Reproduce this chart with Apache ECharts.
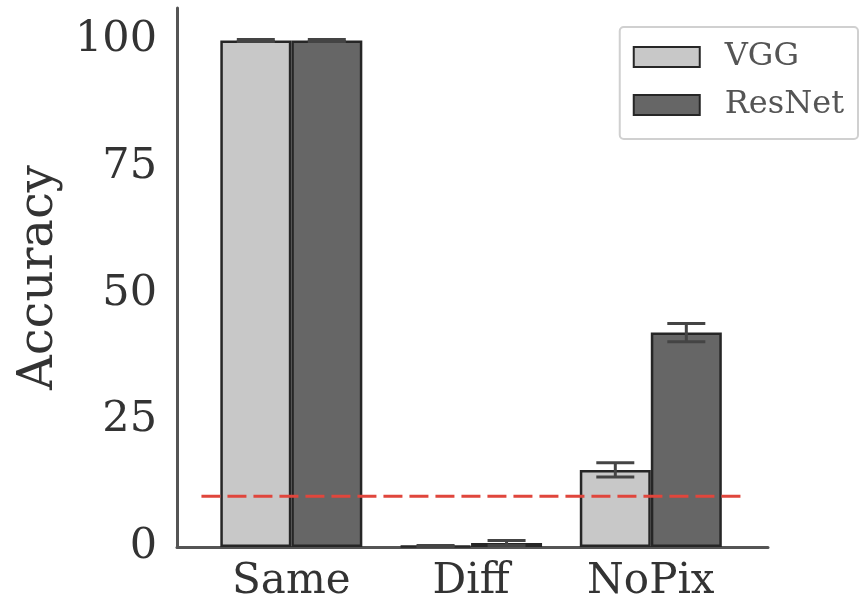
<!DOCTYPE html>
<html>
<head>
<meta charset="utf-8">
<script src="https://cdn.jsdelivr.net/npm/echarts@6/dist/echarts.min.js"></script>
<style>
  html, body { margin: 0; padding: 0; background: #fff; }
  #main { width: 860px; height: 603px; }
</style>
</head>
<body>
<div id="main"></div>
<script>
var categories = ['Same', 'Diff', 'NoPix'];
var vggValues = [99.9, 0.2, 15.2];
var vggErr = [0.2, 0.1, 1.4];
var resnetValues = [99.9, 0.8, 42.3];
var resnetErr = [0.2, 0.5, 1.8];
var chanceLevel = 10;
var chanceSpan = [-0.5, 2.5];
var yTicks = [0, 25, 50, 75, 100];

var myChart = echarts.init(document.getElementById('main'));
var font = 'DejaVu Serif';
var barW = 71;

function toPairs(vals) {
    return vals.map(function (v, i) { return [i, v]; });
}

var errData = [];
vggValues.forEach(function (v, i) { errData.push([i, v - vggErr[i], v + vggErr[i], -1]); });
resnetValues.forEach(function (v, i) { errData.push([i, v - resnetErr[i], v + resnetErr[i], 1]); });

var option = {
    animation: false,
    grid: { left: 177, right: 92, top: 8, bottom: 56 },
    legend: {
        right: 2,
        top: 27,
        orient: 'vertical',
        data: ['VGG', 'ResNet'],
        icon: 'rect',
        itemWidth: 66,
        itemHeight: 20,
        itemGap: 16,
        padding: [14, 14, 18, 13],
        borderColor: '#d0d0d0',
        borderWidth: 2,
        borderRadius: 4,
        backgroundColor: '#fff',
        textStyle: { fontFamily: font, fontSize: 32, color: '#555', padding: [0, 0, 0, 20] }
    },
    xAxis: {
        type: 'value',
        min: -0.636,
        max: 2.652,
        splitLine: { show: false },
        axisTick: { show: false },
        axisLine: { show: true, onZero: false, lineStyle: { color: '#555', width: 3 } },
        axisLabel: {
            customValues: [0, 1, 2],
            formatter: function (v) { return categories[Math.round(v)]; },
            fontFamily: font, fontSize: 42, color: '#333', margin: 14
        }
    },
    yAxis: {
        type: 'value',
        min: 0,
        max: 106.3,
        name: 'Accuracy',
        nameLocation: 'middle',
        nameGap: 103,
        nameTextStyle: { fontFamily: font, fontSize: 48, color: '#333' },
        splitLine: { show: false },
        axisTick: { show: false },
        axisLine: { show: true, onZero: false, lineStyle: { color: '#555', width: 3 } },
        axisLabel: {
            customValues: yTicks,
            fontFamily: font, fontSize: 43, color: '#333', margin: 20
        }
    },
    series: [
        {
            name: 'VGG',
            type: 'bar',
            data: toPairs(vggValues),
            barWidth: barW,
            barGap: '0%',
            itemStyle: { color: '#c8c8c8', borderColor: '#262626', borderWidth: 2.5 },
            z: 2
        },
        {
            name: 'ResNet',
            type: 'bar',
            data: toPairs(resnetValues),
            barWidth: barW,
            barGap: '0%',
            itemStyle: { color: '#666666', borderColor: '#262626', borderWidth: 2.5 },
            z: 2
        },
        {
            name: 'chance',
            type: 'line',
            data: chanceSpan.map(function (x) { return [x, chanceLevel]; }),
            showSymbol: false,
            silent: true,
            lineStyle: { color: '#e0463c', width: 3, type: [19, 7] },
            z: 6
        },
        {
            type: 'custom',
            data: errData,
            z: 5,
            renderItem: function (params, api) {
                var lo = api.coord([api.value(0), api.value(1)]);
                var hi = api.coord([api.value(0), api.value(2)]);
                var x = lo[0] + api.value(3) * barW / 2;
                var cap = 19;
                var st = { stroke: '#444', lineWidth: 3 };
                return {
                    type: 'group',
                    children: [
                        { type: 'line', shape: { x1: x, y1: lo[1], x2: x, y2: hi[1] }, style: st },
                        { type: 'line', shape: { x1: x - cap, y1: lo[1], x2: x + cap, y2: lo[1] }, style: st },
                        { type: 'line', shape: { x1: x - cap, y1: hi[1], x2: x + cap, y2: hi[1] }, style: st }
                    ]
                };
            }
        }
    ]
};
myChart.setOption(option);
</script>
</body>
</html>
